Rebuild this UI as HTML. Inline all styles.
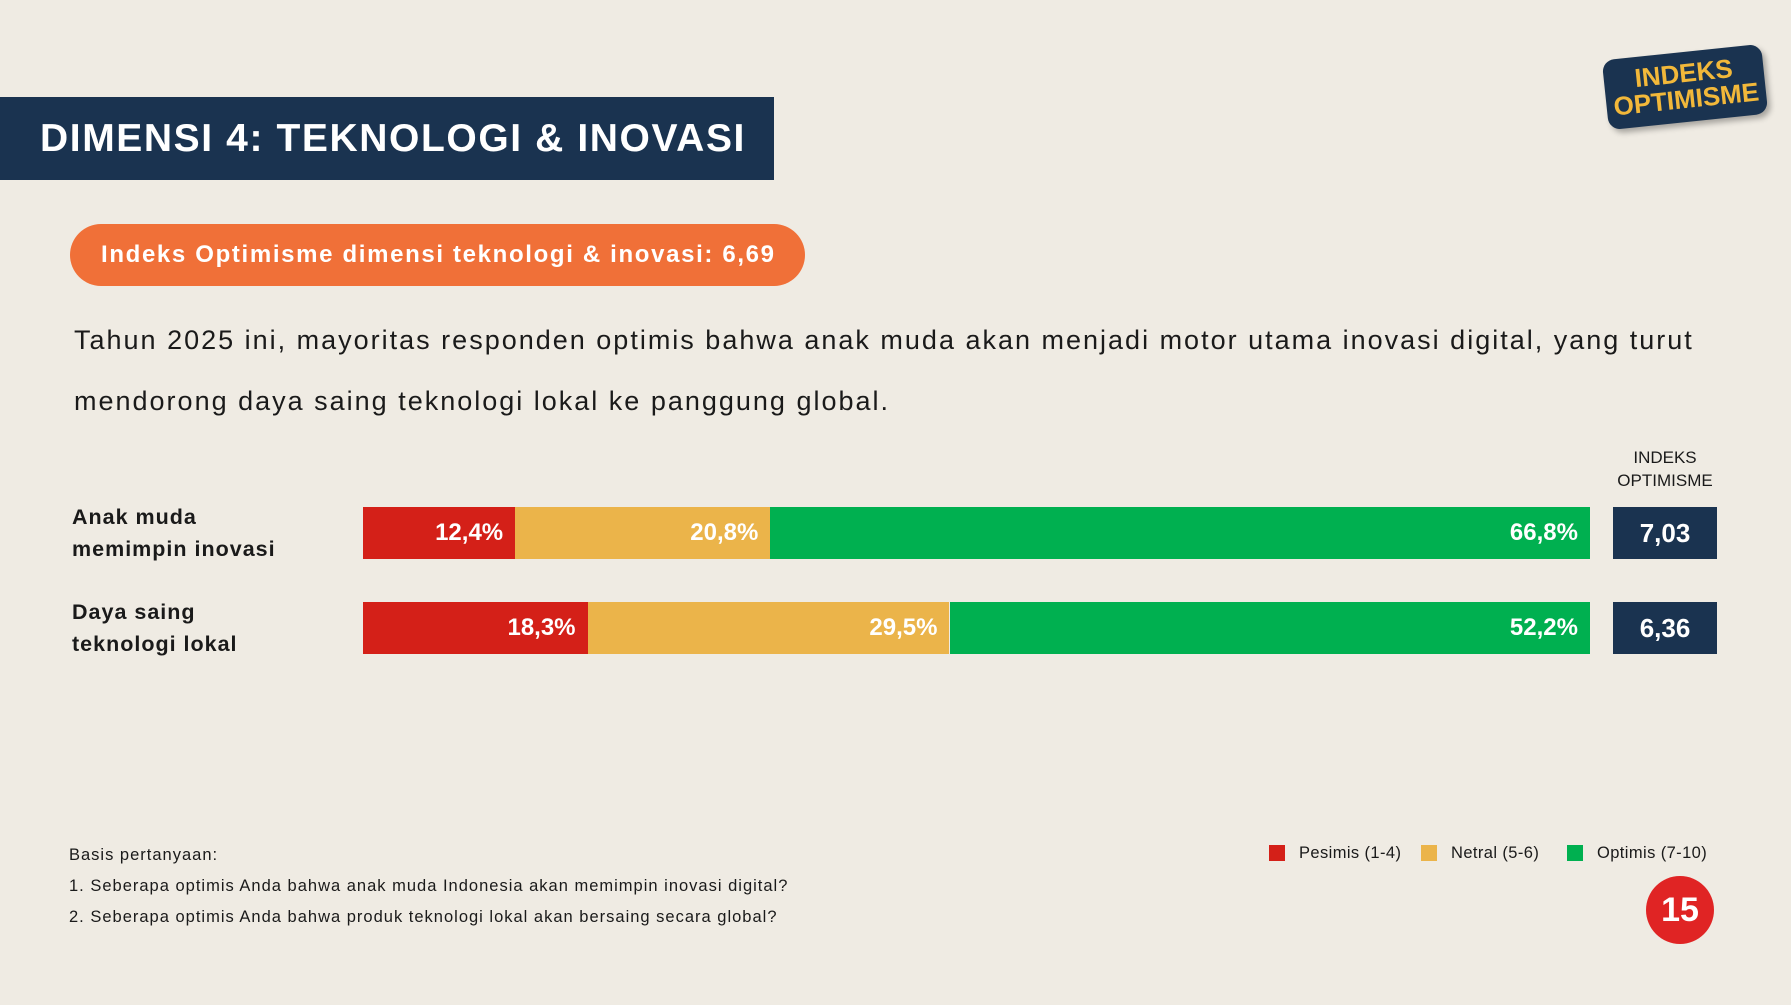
<!DOCTYPE html>
<html><head><meta charset="utf-8"><style>
html,body{margin:0;padding:0}
body{width:1791px;height:1005px;background:#efebe3;position:relative;overflow:hidden;font-family:"Liberation Sans",sans-serif;color:#1a1a1a}
.a{position:absolute}
.b{font-weight:bold}
</style></head><body>
<div class="a" style="left:0;top:97px;width:774px;height:83px;background:#1a3350"></div>
<div class="a b" style="left:40px;top:117px;font-size:39px;color:#fff;letter-spacing:1.6px">DIMENSI 4: TEKNOLOGI &amp; INOVASI</div>
<div class="a" style="left:1605px;top:52px;width:160px;height:70px;background:#1a3350;border-radius:12px;transform:rotate(-6deg);box-shadow:3px 4px 6px rgba(0,0,0,.3)"><div class="b" style="color:#f2b83a;font-size:26px;line-height:26px;text-align:center;padding-top:8px">INDEKS<br>OPTIMISME</div></div>
<div class="a b" style="left:70px;top:224px;width:735px;height:62px;border-radius:31px;background:#f07038;color:#fff;font-size:24px;line-height:62px;padding-left:31px;box-sizing:border-box;letter-spacing:1.65px;white-space:nowrap">Indeks Optimisme dimensi teknologi &amp; inovasi: 6,69</div>
<div class="a" style="left:74px;top:310px;width:1700px;font-size:27px;line-height:61px;letter-spacing:2px;white-space:nowrap">Tahun 2025 ini, mayoritas responden optimis bahwa anak muda akan menjadi motor utama inovasi digital, yang turut<br>mendorong daya saing teknologi lokal ke panggung global.</div>
<div class="a" style="left:1600px;top:446px;width:130px;text-align:center;font-size:17px;line-height:23px">INDEKS<br>OPTIMISME</div>
<div id="chart"></div>
<div class="a" style="left:69px;top:840px;font-size:16.5px;line-height:31px;letter-spacing:1px;white-space:nowrap">Basis pertanyaan:<br>1. Seberapa optimis Anda bahwa anak muda Indonesia akan memimpin inovasi digital?<br>2. Seberapa optimis Anda bahwa produk teknologi lokal akan bersaing secara global?</div>
<div class="a" style="left:1269px;top:844px;font-size:16.5px;line-height:18px;display:flex;gap:0;letter-spacing:0.4px">
<span style="display:flex;align-items:center;width:152px"><i style="width:16px;height:16px;background:#d42018;margin-right:14px"></i>Pesimis (1-4)</span>
<span style="display:flex;align-items:center;width:146px"><i style="width:16px;height:16px;background:#ebb44a;margin-right:14px"></i>Netral (5-6)</span>
<span style="display:flex;align-items:center"><i style="width:16px;height:16px;background:#00b050;margin-right:14px"></i>Optimis (7-10)</span>
</div>
<div class="a b" style="left:1646px;top:876px;width:68px;height:68px;border-radius:50%;background:#e02424;color:#fff;font-size:34px;line-height:68px;text-align:center">15</div>
<script>
const categories=[["Anak muda","memimpin inovasi"],["Daya saing","teknologi lokal"]];
const pesimis=[12.4,18.3];
const netral=[20.8,29.5];
const optimis=[66.8,52.2];
const indeks=["7,03","6,36"];
const colors=["#d42018","#ebb44a","#00b050"];
const X0=363,W=1227,rowTop=[507,602],H=52;
const xs=v=>v/100*W;
const chart=document.getElementById('chart');
function fmt(v){return v.toFixed(1).replace('.',',')+'%';}
categories.forEach((c,i)=>{
  const lab=document.createElement('div');
  
  
  lab.className='a b';
  lab.style.cssText=`left:72px;top:${rowTop[i]-6}px;font-size:21.5px;line-height:32px;letter-spacing:1px`;
  lab.innerHTML=c.join('<br>');
  chart.appendChild(lab);
  let x=X0;
  [pesimis[i],netral[i],optimis[i]].forEach((v,k)=>{
    const s=document.createElement('div');
    
    
    s.className='a b';
    const w=xs(v);
    s.style.cssText=`left:${x}px;top:${rowTop[i]}px;width:${w}px;height:${H}px;background:${colors[k]};color:#fff;font-size:24px;line-height:${H}px;text-align:right;padding-right:12px;box-sizing:border-box`;
    s.textContent=fmt(v);
    chart.appendChild(s);
    x+=w;
  });
  const b=document.createElement('div');
  
  
  b.className='a b';
  b.style.cssText=`left:1613px;top:${rowTop[i]}px;width:104px;height:${H}px;background:#1a3350;color:#fff;font-size:26px;line-height:${H}px;text-align:center`;
  b.textContent=indeks[i];
  chart.appendChild(b);
});
</script>
</body></html>
